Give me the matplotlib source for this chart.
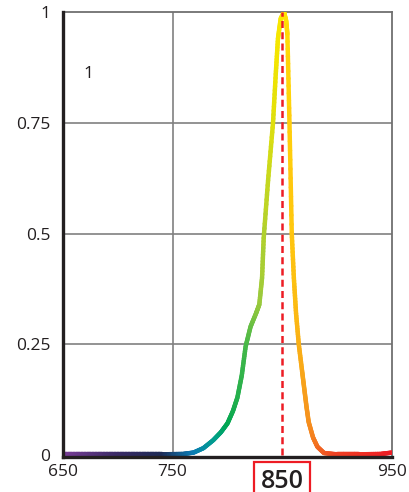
import numpy as np
import matplotlib
matplotlib.use("Agg")
import matplotlib.pyplot as plt
from matplotlib.collections import LineCollection
from matplotlib.colors import LinearSegmentedColormap

# ---- data ----
wavelength = [650, 680, 710, 740, 760, 769, 778, 787, 794, 800, 805, 809, 813, 816.5, 821, 826, 829, 831.5, 833,
              837, 841.5, 844, 846, 848.5, 851.5, 853.5, 854.6, 856.5, 858.6, 860.5, 862.5, 865, 868, 870, 872,
              874, 878, 882, 888, 900, 920, 940, 950]
intensity = [0.002, 0.002, 0.002, 0.002, 0.003, 0.006, 0.016, 0.034, 0.052, 0.072, 0.10, 0.13, 0.18, 0.245,
             0.29, 0.32, 0.34, 0.40, 0.49, 0.62, 0.75, 0.86, 0.94, 0.985, 1.0, 0.98, 0.95, 0.75, 0.50,
             0.40, 0.32, 0.25, 0.19, 0.15, 0.11, 0.075, 0.04, 0.019, 0.005, 0.002, 0.002, 0.003, 0.006]
peak_wavelength = 850
x_ticks = [650, 750, 850, 950]
y_ticks = [0, 0.25, 0.5, 0.75, 1]
y_tick_labels = ["0", "0.25", "0.5", "0.75", "1"]
annotation = "1"

plt.rcParams['font.family'] = ['Open Sans', 'DejaVu Sans']

fig = plt.figure(figsize=(4.10, 4.92), dpi=100)
ax = fig.add_axes([0.1537, 0.0711, 0.8024, 0.9045])

# gradient line
x = np.array(wavelength, dtype=float)
y = np.array(intensity, dtype=float)
xs, ys = [], []
for i in range(len(x) - 1):
    t = np.linspace(0, 1, 12, endpoint=False)
    xs.extend(x[i] + (x[i+1] - x[i]) * t)
    ys.extend(y[i] + (y[i+1] - y[i]) * t)
xs.append(x[-1]); ys.append(y[-1])
xs = np.array(xs); ys = np.array(ys)
pts = np.array([xs, ys]).T.reshape(-1, 1, 2)
segs = np.concatenate([pts[:-1], pts[1:]], axis=1)

stops = [(650, '#7a3e98'), (700, '#3b2a66'), (740, '#1e2a55'), (770, '#0a7cb5'),
         (790, '#00a08a'), (800, '#00a651'), (815, '#39b54a'), (830, '#9cca3c'),
         (845, '#f2e500'), (852, '#ffe800'), (858, '#ffc90e'), (870, '#f7a21b'),
         (885, '#f26522'), (900, '#ef4123'), (950, '#ed1c24')]
cmap = LinearSegmentedColormap.from_list(
    'spec', [((w - 650) / 300, c) for w, c in stops])
mids = (xs[:-1] + xs[1:]) / 2
lc = LineCollection(segs, colors=cmap((mids - 650) / 300), linewidths=3.2,
                    capstyle='round', joinstyle='round', zorder=3)
ax.add_collection(lc)

# peak marker line
ax.plot([peak_wavelength, peak_wavelength], [0, 1], color='#ed1c24', lw=1.8,
        dashes=(2.8, 1.7), zorder=4)

ax.set_xlim(650, 950)
ax.set_ylim(-0.004, 1)

# grid
for yv in [0.25, 0.5, 0.75]:
    ax.axhline(yv, color='#808080', lw=1.2, zorder=1)
ax.axvline(750, color='#808080', lw=1.2, zorder=1)

for s in ['top', 'right']:
    ax.spines[s].set_color('#707070')
    ax.spines[s].set_linewidth(1.3)
for s in ['left', 'bottom']:
    ax.spines[s].set_color('#231f20')
    ax.spines[s].set_linewidth(2.4)
    ax.spines[s].set_zorder(5)

ax.set_xticks(x_ticks)
ax.set_xticklabels(["" if v == peak_wavelength else str(v) for v in x_ticks])
ax.set_yticks(y_ticks)
ax.set_yticklabels(y_tick_labels)
ax.tick_params(length=0, labelsize=12.5, colors='#231f20')
ax.tick_params(axis='y', pad=9)
ax.tick_params(axis='x', pad=5)

# boxed peak label
ax.annotate(str(peak_wavelength), xy=(peak_wavelength, 0),
            xycoords=('data', 'axes fraction'), xytext=(0, -22),
            textcoords='offset points', ha='center', va='baseline',
            fontsize=18, fontweight='semibold', color='#231f20',
            bbox=dict(boxstyle='square,pad=0.26', fc='white', ec='#ed1c24', lw=1.6),
            annotation_clip=False)

ax.text(673, 0.86, annotation, fontsize=12.5, color='#231f20', ha='center', va='center')

fig.savefig('out.png', dpi=100)
